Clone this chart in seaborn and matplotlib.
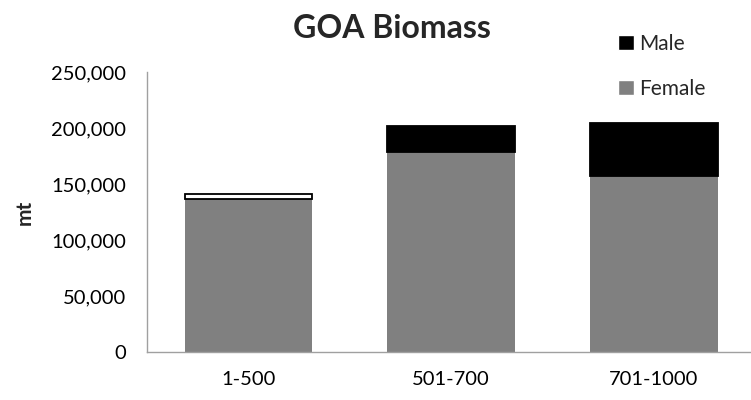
import numpy as np
import pandas as pd
import seaborn as sns
import matplotlib.pyplot as plt
from matplotlib.patches import Patch
from matplotlib.ticker import FuncFormatter

# Datos
depths = ['1-500', '501-700', '701-1000']
female = [136300, 178600, 157400]
male = [4500, 23200, 47100]
male_colors = ['white', 'black', 'black']

sns.set_style('white')
plt.rcParams['font.family'] = ['Lato', 'DejaVu Sans']

df = pd.DataFrame({'Depth': depths, 'Female': female, 'Male': male})

fig = plt.figure(figsize=(7.51, 4.0), dpi=100)
ax = fig.add_axes([0.196, 0.12, 0.804, 0.70])

# Hembra abajo
sns.barplot(ax=ax, data=df, x='Depth', y='Female', color='#808080',
            width=0.63, saturation=1, linewidth=0, order=depths)
# Macho apilado encima, una barra por categoria
for i, d in enumerate(depths):
    sns.barplot(ax=ax, x=[d], y=[male[i]], bottom=[female[i]], order=depths,
                color=male_colors[i], edgecolor='black', linewidth=1.3,
                width=0.63, saturation=1)

ax.set_xlim(-0.5, 2.48)
ax.set_ylim(0, 250000)
ax.set_yticks(np.arange(0, 250001, 50000))
ax.yaxis.set_major_formatter(FuncFormatter(lambda v, p: f'{int(v):,}'))
ax.tick_params(axis='both', length=0, labelsize=14.5, colors='black')
ax.tick_params(axis='y', pad=15)
ax.tick_params(axis='x', pad=14)

for s in ['top', 'right']:
    ax.spines[s].set_visible(False)
for s in ['left', 'bottom']:
    ax.spines[s].set_color('#a0a0a0')
    ax.spines[s].set_linewidth(1)

ax.set_xlabel('')
ax.set_ylabel('mt', fontsize=15, fontweight='bold', labelpad=12)
fig.text(0.522, 0.93, 'GOA Biomass', ha='center', va='center',
         fontsize=23, fontweight='bold')

handles = [Patch(facecolor='black'), Patch(facecolor='#808080')]
fig.legend(handles, ['Male', 'Female'], loc='upper left',
           bbox_to_anchor=(0.823, 0.915), frameon=False, fontsize=15,
           handlelength=0.75, handleheight=0.75, handletextpad=0.25,
           labelspacing=1.2, borderaxespad=0, borderpad=0)

fig.savefig('out.png', dpi=100)
